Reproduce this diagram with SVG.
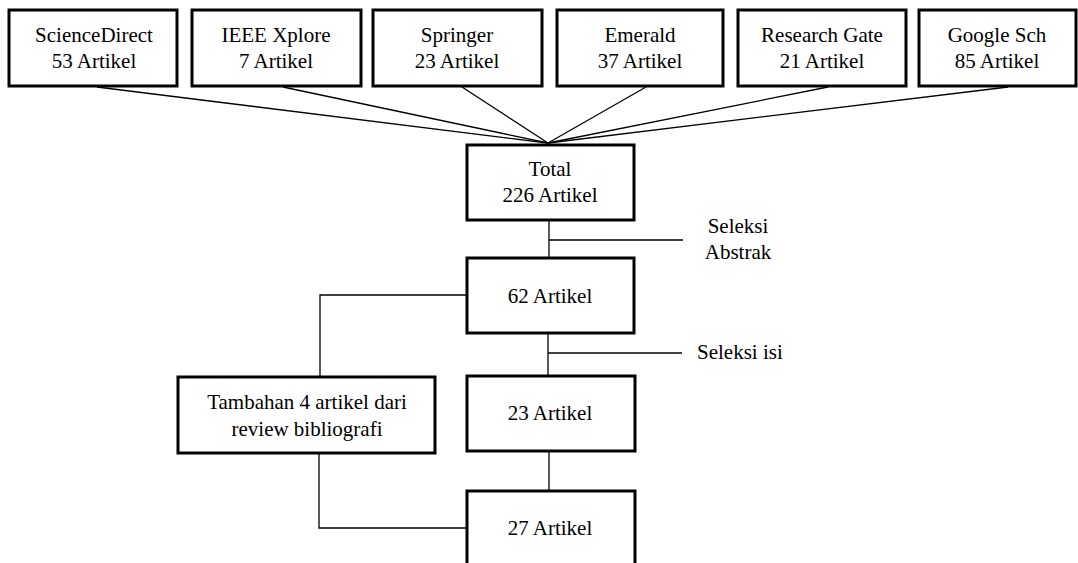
<svg xmlns="http://www.w3.org/2000/svg" width="1078" height="563" viewBox="0 0 1078 563">
<style>
.box{fill:#fff;stroke:#000;stroke-width:3}
.t{font-family:"Liberation Serif","Times New Roman",serif;font-size:21px;fill:#000;text-anchor:middle}
.c{fill:none;stroke:#000;stroke-width:1.3}
.lbl{font-family:"Liberation Serif","Times New Roman",serif;font-size:21px;fill:#000}
</style>
<rect width="1078" height="563" fill="#fff"/>
<g id="connectors">
<line class="c" x1="97" y1="87" x2="548" y2="143"/>
<line class="c" x1="283" y1="87" x2="548" y2="143"/>
<line class="c" x1="462" y1="87" x2="548" y2="143"/>
<line class="c" x1="646" y1="87" x2="548" y2="143"/>
<line class="c" x1="828" y1="87" x2="548" y2="143"/>
<line class="c" x1="1008" y1="87" x2="548" y2="143"/>
<line class="c" x1="549" y1="220" x2="549" y2="258"/>
<line class="c" x1="549" y1="240" x2="683" y2="240"/>
<line class="c" x1="548" y1="333" x2="548" y2="376"/>
<line class="c" x1="548" y1="353" x2="682" y2="353"/>
<line class="c" x1="549" y1="451" x2="549" y2="491"/>
<polyline class="c" points="467,295 320,295 320,377"/>
<polyline class="c" points="319,453 319,528 467,528"/>
<text class="lbl" x="738" y="233" text-anchor="middle">Seleksi</text>
<text class="lbl" x="738" y="259" text-anchor="middle">Abstrak</text>
<text class="lbl" x="697" y="359">Seleksi isi</text>
</g>
<g id="n-sciencedirect">
<rect class="box" x="9" y="10" width="168" height="76"/>
<text class="t" x="94" y="42">ScienceDirect</text>
<text class="t" x="94" y="68">53 Artikel</text>
</g>
<g id="n-ieee">
<rect class="box" x="192" y="10" width="169" height="76"/>
<text class="t" x="276" y="42">IEEE Xplore</text>
<text class="t" x="276" y="68">7 Artikel</text>
</g>
<g id="n-springer">
<rect class="box" x="373" y="10" width="169" height="76"/>
<text class="t" x="457" y="42">Springer</text>
<text class="t" x="457" y="68">23 Artikel</text>
</g>
<g id="n-emerald">
<rect class="box" x="557" y="10" width="166" height="76"/>
<text class="t" x="640" y="42">Emerald</text>
<text class="t" x="640" y="68">37 Artikel</text>
</g>
<g id="n-researchgate">
<rect class="box" x="738" y="10" width="168" height="76"/>
<text class="t" x="822" y="42">Research Gate</text>
<text class="t" x="822" y="68">21 Artikel</text>
</g>
<g id="n-google">
<rect class="box" x="919" y="10" width="157" height="76"/>
<text class="t" x="997" y="42">Google Sch</text>
<text class="t" x="997" y="68">85 Artikel</text>
</g>
<g id="n-total">
<rect class="box" x="467" y="145" width="167" height="75"/>
<text class="t" x="550" y="176">Total</text>
<text class="t" x="550" y="202">226 Artikel</text>
</g>
<g id="n-62">
<rect class="box" x="467" y="258" width="167" height="75"/>
<text class="t" x="550" y="303">62 Artikel</text>
</g>
<g id="n-tambahan">
<rect class="box" x="178" y="377" width="257" height="76"/>
<text class="t" x="307" y="409">Tambahan 4 artikel dari</text>
<text class="t" x="307" y="436">review bibliografi</text>
</g>
<g id="n-23">
<rect class="box" x="467" y="376" width="168" height="75"/>
<text class="t" x="550" y="420">23 Artikel</text>
</g>
<g id="n-27">
<rect class="box" x="467" y="491" width="168" height="78"/>
<text class="t" x="550" y="535">27 Artikel</text>
</g>
</svg>
